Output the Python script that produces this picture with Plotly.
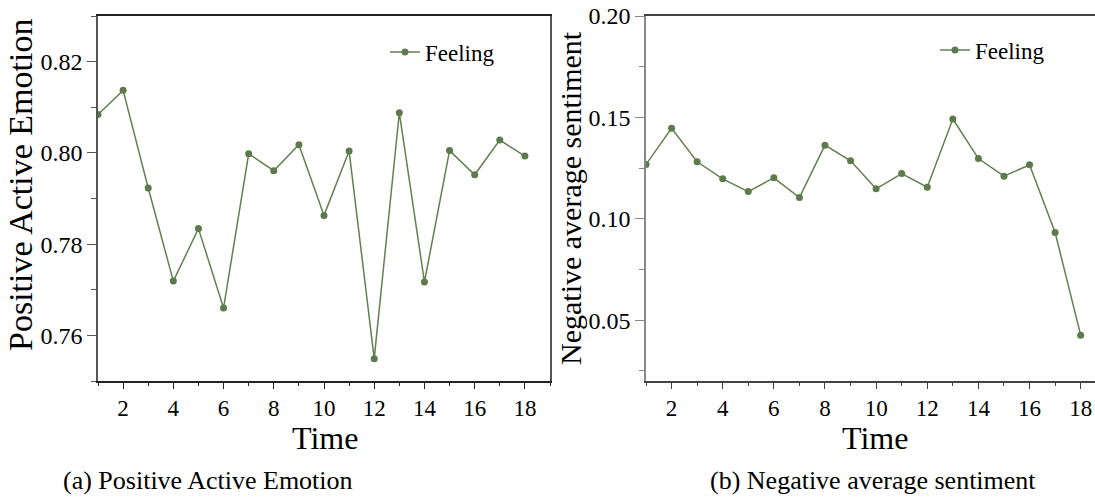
import plotly.graph_objects as go

time = list(range(1, 19))
positive = [0.8084, 0.8137, 0.7923, 0.7719, 0.7834, 0.7660, 0.7998, 0.7961, 0.8018,
            0.7863, 0.8004, 0.7549, 0.8088, 0.7717, 0.8005, 0.7952, 0.8028, 0.7993]
negative = [0.1268, 0.1446, 0.1281, 0.1197, 0.1134, 0.1202, 0.1105, 0.1363, 0.1286,
            0.1148, 0.1223, 0.1156, 0.1492, 0.1297, 0.1210, 0.1266, 0.0932, 0.0426]
series_name = "Feeling"
x_title = "Time"
y_titles = ["Positive Active Emotion", "Negative average sentiment"]
captions = ["(a) Positive Active Emotion", "(b) Negative average sentiment"]

W, H = 1095, 497
FONT = "Liberation Serif"
LINE = "#62804f"
MARK = "#5c7a4a"

def px_x(p):
    return p / W

def px_y(p):
    return 1 - p / H

fig = go.Figure()
fig.add_trace(go.Scatter(x=time, y=positive, mode="lines+markers", name=series_name,
                         line=dict(color=LINE, width=1.5), marker=dict(color=MARK, size=7),
                         xaxis="x", yaxis="y", legend="legend"))
fig.add_trace(go.Scatter(x=time, y=negative, mode="lines+markers", name=series_name,
                         line=dict(color=LINE, width=1.5), marker=dict(color=MARK, size=7),
                         xaxis="x2", yaxis="y2", legend="legend2"))

ydom = [px_y(381), px_y(16)]
xtick_font = dict(family=FONT, size=23, color="black")
ytick_font = dict(family=FONT, size=24, color="black")
axis_common = dict(showgrid=False, zeroline=False, ticks="outside", showline=True, automargin=False)

fig.update_layout(
    width=W, height=H,
    margin=dict(l=0, r=0, t=0, b=0, pad=0, autoexpand=False),
    paper_bgcolor="white", plot_bgcolor="white",
    font=dict(family=FONT, color="black"),
    xaxis=dict(domain=[px_x(98), px_x(550)], range=[1, 19], dtick=2, tick0=0,
               ticklen=6, linecolor="#222", linewidth=1.5, tickcolor="#222", mirror=True,
               minor=dict(dtick=1, tick0=0, ticklen=3, ticks="outside", tickcolor="#222"),
               anchor="y", tickfont=xtick_font, **axis_common),
    yaxis=dict(domain=ydom, range=[0.75, 0.83], dtick=0.02, tick0=0, tickformat=".2f",
               ticklen=9, linecolor="#555", linewidth=1.5, tickcolor="#555", mirror=True,
               minor=dict(dtick=0.01, tick0=0, ticklen=5, ticks="outside", tickcolor="#555"),
               anchor="x", tickfont=ytick_font, **axis_common),
    xaxis2=dict(domain=[px_x(646), 1.0], range=[1, 18.56], dtick=2, tick0=0,
                ticklen=6, linecolor="#444", linewidth=1.5, tickcolor="#444", mirror=True,
                minor=dict(dtick=1, tick0=0, ticklen=3, ticks="outside", tickcolor="#444"),
                anchor="y2", tickfont=xtick_font, **axis_common),
    yaxis2=dict(domain=ydom, range=[0.02, 0.20], dtick=0.05, tick0=0, tickformat=".2f",
                ticklen=9, linecolor="#888", linewidth=1.5, tickcolor="#888",
                minor=dict(dtick=0.025, tick0=0, ticklen=5, ticks="outside", tickcolor="#888"),
                anchor="x2", tickfont=ytick_font, **axis_common),
    legend=dict(x=px_x(385), y=px_y(52), xanchor="left", yanchor="middle",
                bgcolor="rgba(0,0,0,0)", font=dict(family=FONT, size=23, color="black")),
    legend2=dict(x=px_x(935), y=px_y(50), xanchor="left", yanchor="middle",
                 bgcolor="rgba(0,0,0,0)", font=dict(family=FONT, size=23, color="black")),
    showlegend=True,
)

annots = [
    dict(text=y_titles[0], x=px_x(20), y=px_y(185), textangle=-90, font=dict(size=34)),
    dict(text=y_titles[1], x=px_x(571), y=px_y(198), textangle=-90, font=dict(size=30)),
    dict(text=x_title, x=px_x(325), y=px_y(438), font=dict(size=32)),
    dict(text=x_title, x=px_x(875), y=px_y(438), font=dict(size=32)),
    dict(text=captions[0], x=px_x(61), y=px_y(480), xanchor="left", font=dict(size=26)),
    dict(text=captions[1], x=px_x(873), y=px_y(480), font=dict(size=26)),
]
for a in annots:
    a.setdefault("xanchor", "center")
    a["font"] = dict(family=FONT, color="black", **a["font"])
    fig.add_annotation(xref="paper", yref="paper", yanchor="middle", showarrow=False, **a)

fig.write_html("out.html", config={"displayModeBar": False},
               post_script="document.body.style.margin='0';document.body.style.overflow='hidden';")
